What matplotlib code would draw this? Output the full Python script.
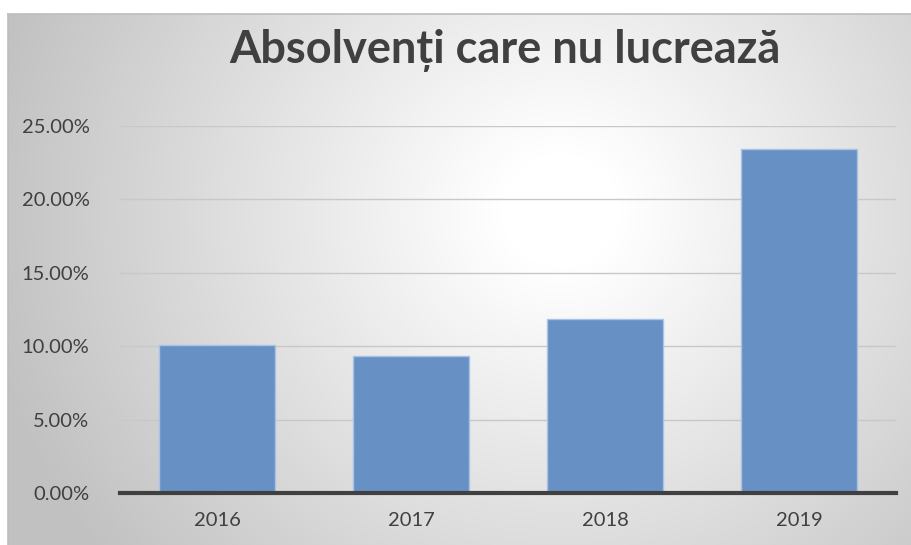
import numpy as np
import matplotlib
matplotlib.use('Agg')
import matplotlib.pyplot as plt
from matplotlib.ticker import PercentFormatter

# Data
years = ['2016', '2017', '2018', '2019']
share_not_working = [10.05, 9.35, 11.85, 23.4]  # percent
y_ticks = [0, 5, 10, 15, 20, 25]

plt.rcParams['font.family'] = ['Lato', 'DejaVu Sans']

W, H = 912, 545
fig = plt.figure(figsize=(W / 100, H / 100), dpi=100)
fig.patch.set_facecolor('white')

# chart area with radial gray->white gradient
x0, y0 = 8, 14
bg = fig.add_axes([x0 / W, 0, 1 - x0 / W, 1 - y0 / H], zorder=0)
gx, gy = np.meshgrid(np.arange(x0, W), np.arange(y0, H))
d = np.hypot(gx - 560, (gy - 210) * 1.05)
v = 1 - 0.24 * np.clip((d - 60) / 520, 0, 1)
bg.imshow(np.dstack([v, v, v]), aspect='auto', extent=[0, 1, 0, 1], origin='upper')
bg.set_axis_off()
# thin border on left/top
fig.add_artist(plt.Line2D([x0 / W, x0 / W], [0, 1 - y0 / H], color='#bdbdbd', lw=1.2))
fig.add_artist(plt.Line2D([x0 / W, 1], [1 - y0 / H, 1 - y0 / H], color='#bdbdbd', lw=1.2))

ax = fig.add_axes([120 / W, 1 - 493 / H, (896 - 120) / W, (493 - 126) / H], zorder=1)
ax.patch.set_alpha(0)

x = np.arange(len(years))
ax.bar(x, share_not_working, width=0.6, color='#6791c5', edgecolor='#a9c3e6', linewidth=1, zorder=3)

ax.set_xlim(-0.5, len(years) - 0.5)
ax.set_ylim(0, 25)
ax.set_yticks(y_ticks)
ax.yaxis.set_major_formatter(PercentFormatter(decimals=2))
ax.set_xticks(x)
ax.set_xticklabels(years)
ax.grid(axis='y', color='#c8c8c8', lw=1, zorder=0)
ax.tick_params(length=0, labelsize=14.5, labelcolor='#404040')
ax.tick_params(axis='y', pad=22)
ax.tick_params(axis='x', pad=14)
for s in ['top', 'right', 'left']:
    ax.spines[s].set_visible(False)
ax.spines['bottom'].set_color('#404040')
ax.spines['bottom'].set_linewidth(3)
ax.spines['bottom'].set_zorder(4)

fig.text(505 / W, 1 - 50 / H, 'Absolvenți care nu lucrează', ha='center', va='center',
         fontsize=32.5, fontweight='bold', color='#404040')

fig.savefig('out.png', dpi=100)
